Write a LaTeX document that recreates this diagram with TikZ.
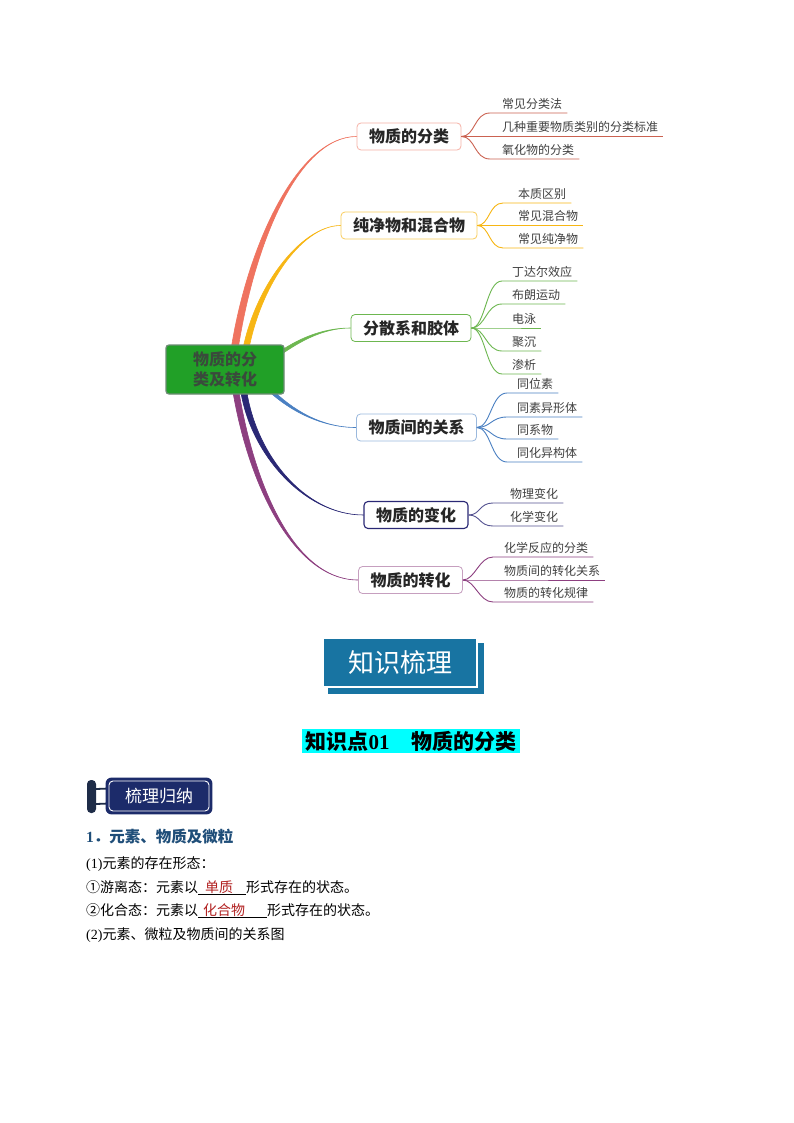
\documentclass[tikz,border=0pt]{standalone}
\usepackage{fontspec}
\setmainfont{Noto Sans CJK SC}
\newfontfamily\tnr{Liberation Serif}
\usepackage{tikz}
\usetikzlibrary{backgrounds}
\definecolor{brRed}{HTML}{EF735F}
\definecolor{brOrange}{HTML}{F7B614}
\definecolor{brGreen}{HTML}{6DB750}
\definecolor{brBlue}{HTML}{4A80C2}
\definecolor{brNavy}{HTML}{2A2875}
\definecolor{brPlum}{HTML}{8D3F80}
\definecolor{rootFill}{HTML}{21A027}
\definecolor{rootEdge}{HTML}{6D8C74}
\definecolor{rootInk}{HTML}{3A4A3C}
\definecolor{sortTeal}{HTML}{1874A2}
\definecolor{badgeNavy}{HTML}{1C2B6A}
\definecolor{pegNavy}{HTML}{1E2C48}
\definecolor{headBlue}{HTML}{1F4E79}
\definecolor{blankRed}{HTML}{B22222}
\definecolor{hlCyan}{HTML}{00FFFF}
\tikzset{
  rootbox/.style={rectangle,rounded corners=3pt,fill=rootFill,draw=rootEdge,line width=1.3pt,
    minimum width=118pt,minimum height=49pt,text=rootInk,align=center,
    font=\fontsize{16}{19.5}\selectfont\bfseries},
  topic/.style={rectangle,rounded corners=4pt,draw=#1,fill=white,line width=0.8pt,
    minimum height=27pt,inner xsep=12pt,text=black!85,font=\fontsize{16}{18}\selectfont\bfseries},
  leaf/.style={anchor=south west,inner xsep=5pt,inner ysep=3.5pt,text=black!75,
    font=\fontsize{12}{14}\selectfont},
  limb/.style={fill=#1,draw=#1,line width=0.6pt,line join=round},
  twig/.style={draw=#1,line width=0.9pt},
  sortbox/.style={rectangle,fill=sortTeal,draw=white,line width=1.5pt,minimum width=154pt,
    minimum height=49pt,text=white,font=\fontsize{26}{30}\selectfont},
  hlbar/.style={rectangle,fill=hlCyan,minimum width=218pt,minimum height=24pt,inner sep=0pt,
    font=\fontsize{21}{24}\selectfont\bfseries},
  pegbar/.style={rectangle,rounded corners=4pt,fill=pegNavy,minimum width=9pt,minimum height=33pt,inner sep=0pt},
  pegline/.style={draw=pegNavy,line width=1.8pt},
  badge/.style={rectangle,rounded corners=4pt,fill=badgeNavy,draw=white,line width=0.9pt,
    minimum width=100pt,minimum height=30pt,text=white,font=\fontsize{17}{20}\selectfont},
  bodyline/.style={anchor=base west,inner sep=0pt,font=\fontsize{14}{17}\selectfont},
}
\newcommand\blank[3]{\underline{\makebox[#1][l]{\hspace{#2}\textcolor{blankRed}{#3}}}}

\begin{document}
\begin{tikzpicture}[x=1pt,y=-1pt]
  \useasboundingbox (0,0) rectangle (794,1123);
  % mind map
  \node[rootbox] (root) at (225,369.5) {物质的分\\类及转化};
  \node[topic=brRed!55] (b1) at (409,136.5) {物质的分类};
  \node[topic=brOrange!70] (b2) at (409,225.5) {纯净物和混合物};
  \node[topic=brGreen] (b3) at (411,328) {分散系和胶体};
  \node[topic=brBlue!55] (b4) at (416.5,427.5) {物质间的关系};
  \node[topic=brNavy,line width=1.1pt] (b5) at (416,515) {物质的变化};
  \node[topic=brPlum!50] (b6) at (410.5,580) {物质的转化};
  \coordinate (s1) at (233,360);
  \coordinate (s2) at (244,360);
  \coordinate (s3) at (276,356);
  \coordinate (s4) at (268,388);
  \coordinate (s5) at (243,386);
  \coordinate (s6) at (235,386);
  % leaves
  \node[leaf] (l11) at (497,113) {常见分类法};
  \node[leaf] (l12) at (497,136.5) {几种重要物质类别的分类标准};
  \node[leaf] (l13) at (497,159) {氧化物的分类};
  \node[leaf] (l21) at (513,203) {本质区别};
  \node[leaf] (l22) at (513,225.5) {常见混合物};
  \node[leaf] (l23) at (513,248) {常见纯净物};
  \node[leaf] (l31) at (507,281) {丁达尔效应};
  \node[leaf] (l32) at (507,304) {布朗运动};
  \node[leaf] (l33) at (507,328) {电泳};
  \node[leaf] (l34) at (507,351) {聚沉};
  \node[leaf] (l35) at (507,374) {渗析};
  \node[leaf] (l41) at (512,393) {同位素};
  \node[leaf] (l42) at (512,417) {同素异形体};
  \node[leaf] (l43) at (512,439) {同系物};
  \node[leaf] (l44) at (512,462) {同化异构体};
  \node[leaf] (l51) at (505,503) {物理变化};
  \node[leaf] (l52) at (505,526) {化学变化};
  \node[leaf] (l61) at (499,557) {化学反应的分类};
  \node[leaf] (l62) at (499,580) {物质间的转化关系};
  \node[leaf] (l63) at (499,602) {物质的转化规律};
  \coordinate (c11) at (490,113);
  \coordinate (c12) at (490,136.5);
  \coordinate (c13) at (490,159);
  \coordinate (c21) at (503,203);
  \coordinate (c22) at (503,225.5);
  \coordinate (c23) at (503,248);
  \coordinate (c31) at (502,281);
  \coordinate (c32) at (502,304);
  \coordinate (c33) at (502,328);
  \coordinate (c34) at (502,351);
  \coordinate (c35) at (502,374);
  \coordinate (c41) at (507,393);
  \coordinate (c42) at (507,417);
  \coordinate (c43) at (507,439);
  \coordinate (c44) at (507,462);
  \coordinate (c51) at (493,503);
  \coordinate (c52) at (493,526);
  \coordinate (c61) at (493,557);
  \coordinate (c62) at (493,580);
  \coordinate (c63) at (493,602);
  \draw[twig=brRed!85!black] (b1.east) .. controls +(14,0) and +(-16,0) .. (c11) -- (l11.south east);
  \draw[twig=brRed!85!black] (b1.east) -- (c12) -- (l12.south east);
  \draw[twig=brRed!85!black] (b1.east) .. controls +(14,0) and +(-16,0) .. (c13) -- (l13.south east);
  \draw[twig=brOrange] (b2.east) .. controls +(12,0) and +(-14,0) .. (c21) -- (l21.south east);
  \draw[twig=brOrange] (b2.east) -- (c22) -- (l22.south east);
  \draw[twig=brOrange] (b2.east) .. controls +(12,0) and +(-14,0) .. (c23) -- (l23.south east);
  \draw[twig=brGreen] (b3.east) .. controls +(14,0) and +(-16,0) .. (c31) -- (l31.south east);
  \draw[twig=brGreen] (b3.east) .. controls +(14,0) and +(-16,0) .. (c32) -- (l32.south east);
  \draw[twig=brGreen] (b3.east) -- (c33) -- (l33.south east);
  \draw[twig=brGreen] (b3.east) .. controls +(14,0) and +(-16,0) .. (c34) -- (l34.south east);
  \draw[twig=brGreen] (b3.east) .. controls +(14,0) and +(-16,0) .. (c35) -- (l35.south east);
  \draw[twig=brBlue] (b4.east) .. controls +(14,0) and +(-16,0) .. (c41) -- (l41.south east);
  \draw[twig=brBlue] (b4.east) .. controls +(14,0) and +(-16,0) .. (c42) -- (l42.south east);
  \draw[twig=brBlue] (b4.east) .. controls +(14,0) and +(-16,0) .. (c43) -- (l43.south east);
  \draw[twig=brBlue] (b4.east) .. controls +(14,0) and +(-16,0) .. (c44) -- (l44.south east);
  \draw[twig=brNavy!80] (b5.east) .. controls +(12,0) and +(-14,0) .. (c51) -- (l51.south east);
  \draw[twig=brNavy!80] (b5.east) .. controls +(12,0) and +(-14,0) .. (c52) -- (l52.south east);
  \draw[twig=brPlum] (b6.east) .. controls +(12,0) and +(-14,0) .. (c61) -- (l61.south east);
  \draw[twig=brPlum] (b6.east) -- (c62) -- (l62.south east);
  \draw[twig=brPlum] (b6.east) .. controls +(12,0) and +(-14,0) .. (c63) -- (l63.south east);
  % main limbs, tapering
  \begin{scope}[on background layer]
    \fill[white] (0,0) rectangle (794,1123);
    \filldraw[limb=brRed] ([xshift=-3.5pt]s1) .. controls +(15,-110) and +(-60,0) .. (b1.west)
      .. controls +(-60,0) and +(15,-110) .. ([xshift=3.5pt]s1) -- cycle;
    \filldraw[limb=brOrange] ([xshift=-3pt]s2) .. controls +(10,-70) and +(-40,0) .. (b2.west)
      .. controls +(-40,0) and +(10,-70) .. ([xshift=3pt]s2) -- cycle;
    \filldraw[limb=brGreen] ([yshift=-2pt]s3) .. controls +(20,-14) and +(-30,0) .. (b3.west)
      .. controls +(-30,0) and +(20,-14) .. ([yshift=2pt]s3) -- cycle;
    \filldraw[limb=brBlue] ([xshift=-2.5pt]s4) .. controls +(22,22) and +(-35,0) .. (b4.west)
      .. controls +(-35,0) and +(22,22) .. ([xshift=2.5pt]s4) -- cycle;
    \filldraw[limb=brNavy] ([xshift=-3pt]s5) .. controls +(8,66) and +(-60,0) .. (b5.west)
      .. controls +(-60,0) and +(8,66) .. ([xshift=3pt]s5) -- cycle;
    \filldraw[limb=brPlum] ([xshift=-3pt]s6) .. controls +(15,96) and +(-65,0) .. (b6.west)
      .. controls +(-65,0) and +(15,96) .. ([xshift=3pt]s6) -- cycle;
  \end{scope}
  % section heads
  \node[sortbox] (sort) at (400,662.5) {知识梳理};
  \node[hlbar] (kp) at (411,741) {知识点{\tnr 01}\hspace{22pt}物质的分类};
  \node[pegbar] (peg) at (91.5,796.5) {};
  \node[badge] (badge) at (159,796) {梳理归纳};
  \begin{scope}[on background layer]
    \fill[sortTeal] ([shift={(6pt,-6pt)}]sort.south west) rectangle ([shift={(6pt,-6pt)}]sort.north east);
    \draw[pegline] ([yshift=7.5pt]peg.east) -- ([yshift=7.5pt]badge.west);
    \draw[pegline] ([yshift=-7.5pt]peg.east) -- ([yshift=-7.5pt]badge.west);
    \fill[badgeNavy,rounded corners=6pt] ([shift={(-3pt,-3pt)}]badge.south west) rectangle ([shift={(3pt,3pt)}]badge.north east);
  \end{scope}
  % body text
  \node[bodyline,text=headBlue,font=\fontsize{15.5}{18}\selectfont\bfseries] (h1) at (86,842) {{\tnr 1}．元素、物质及微粒};
  \node[bodyline] (p1) at (86,868) {{\tnr (1)}元素的存在形态：};
  \node[bodyline] (p2) at (86,892) {①游离态：元素以\blank{48pt}{7pt}{单质}形式存在的状态。};
  \node[bodyline] (p3) at (86,915) {②化合态：元素以\blank{69pt}{5pt}{化合物}形式存在的状态。};
  \node[bodyline] (p4) at (86,939) {{\tnr (2)}元素、微粒及物质间的关系图};
\end{tikzpicture}
\end{document}
